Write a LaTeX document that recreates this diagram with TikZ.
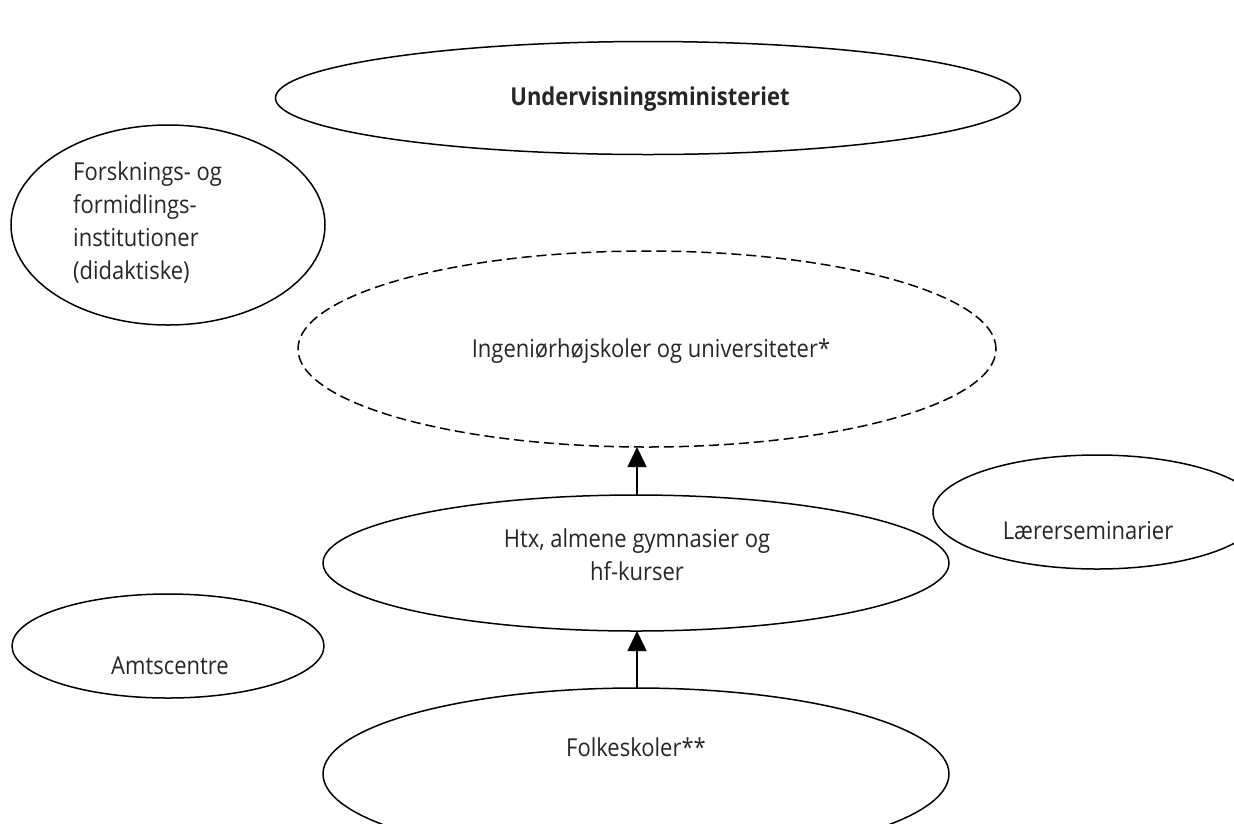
\documentclass[tikz,border=0pt]{standalone}
\usepackage{fontspec}
\setmainfont{Open Sans}[FakeStretch=0.89]
\usetikzlibrary{shapes.geometric,arrows.meta}
\tikzset{
  oval/.style={draw=black,line width=1.5pt,ellipse,inner sep=0pt},
  dashedoval/.style={oval,dash pattern=on 10pt off 5pt},
  lbl/.style={font=\fontsize{24.7}{33}\selectfont,inner sep=0pt,text=black!85},
  conn/.style={line width=1.5pt,-{Triangle[width=19pt,length=20pt]}}
}
\begin{document}
\begin{tikzpicture}[x=1pt,y=-1pt]
\useasboundingbox (0,0) rectangle (1234,823);
\clip (0,0) rectangle (1234,823);
\node[oval,minimum width=745pt,minimum height=113pt] (um) at (648,98) {};
\node[oval,minimum width=314pt,minimum height=200pt] (fi) at (168,225) {};
\node[dashedoval,minimum width=698pt,minimum height=196pt] (iu) at (647,349) {};
\node[oval,minimum width=328pt,minimum height=114pt] (ls) at (1097,512) {};
\node[oval,minimum width=626pt,minimum height=136pt] (htx) at (636,563) {};
\node[oval,minimum width=312pt,minimum height=104pt] (am) at (168,646) {};
\node[oval,minimum width=626pt,minimum height=172pt] (fo) at (636,774) {};

\node[lbl,font=\fontsize{24.7}{33}\selectfont\bfseries] (tum) at (650,99) {Undervisningsministeriet};
\node[lbl,align=left,anchor=west] (tfi) at (73,223) {Forsknings- og\\formidlings-\\institutioner\\(didaktiske)};
\node[lbl] (tiu) at (651,351) {Ingeniørhøjskoler og universiteter*};
\node[lbl] (tls) at (1088,531) {Lærerseminarier};
\node[lbl,align=center] (thtx) at (637,555) {Htx, almene gymnasier og\\hf-kurser};
\node[lbl] (tam) at (170,666) {Amtscentre};
\node[lbl] (tfo) at (636,747) {Folkeskoler**};

\coordinate (a1s) at (637,495);
\coordinate (a1e) at (637,447);
\coordinate (a2s) at (637,688);
\coordinate (a2e) at (637,631);
\draw[conn] (a1s) -- (a1e);
\draw[conn] (a2s) -- (a2e);
\end{tikzpicture}
\end{document}
